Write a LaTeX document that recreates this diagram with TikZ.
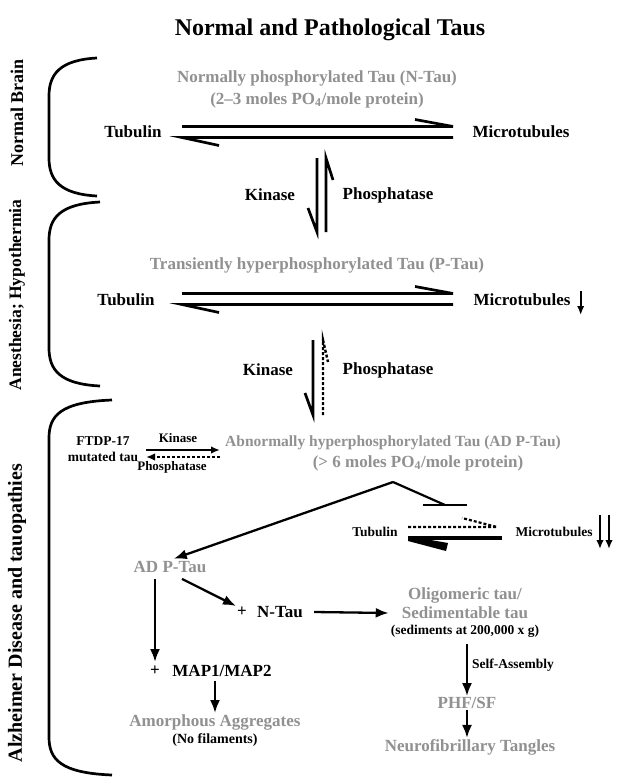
\documentclass[tikz,border=0pt]{standalone}
\usepackage{fontspec}
\setmainfont{Liberation Serif}
\usetikzlibrary{arrows.meta}
\definecolor{taugrey}{RGB}{145,145,145}
\newcommand{\drawthick}{\draw[line width=2.7pt]}
% equilibrium pair: left x, right x, middle y
\newcommand{\eqarrows}[3]{
  \drawthick (#1,#3-5.5)--(#2,#3-5.5)--++(-38,-7);
  \drawthick (#2,#3+5.5)--(#1,#3+5.5)--++(37,8);
}
% side brace: top y, bottom y, right x
\newcommand{\sidebrace}[3]{
  \drawthick (#3,#1) .. controls (60,#1+2) and (49,#1+16) .. (49,#1+38)
    -- (49,#2-38) .. controls (49,#2-16) and (60,#2-2) .. (#3,#2);
}
\tikzset{
  txt/.style={inner sep=1pt, font=\fontsize{17}{19}\selectfont\bfseries},
  greytxt/.style={txt, text=taugrey},
  smalltxt/.style={inner sep=1pt, font=\fontsize{13.5}{15}\selectfont\bfseries},
  sidetxt/.style={inner sep=1pt, rotate=90, font=\fontsize{18}{20}\selectfont\bfseries},
  arr/.style={-{Latex[length=13pt,width=10pt]}, line width=2.3pt},
  thinarr/.style={-{Latex[length=9pt,width=7.5pt]}, line width=1.8pt}
}
\begin{document}
\begin{tikzpicture}[x=1pt,y=-1pt]
\fill[white] (0,0) rectangle (616,779);
\useasboundingbox (0,0) rectangle (616,779);
\node[inner sep=1pt, font=\fontsize{24}{26}\selectfont\bfseries] (title) at (330,30) {Normal and Pathological Taus};

% sides
\sidebrace{58}{196}{97}
\sidebrace{202}{386}{100}
\sidebrace{400}{775}{112}
\node[sidetxt] (nb) at (17,113) {Normal Brain};
\node[sidetxt, font=\fontsize{17.5}{20}\selectfont\bfseries] (ah) at (17,295) {Anesthesia; Hypothermia};
\node[sidetxt, font=\fontsize{20}{22}\selectfont\bfseries] (ad) at (17,613) {Alzheimer Disease and tauopathies};

% normal brain
\node[greytxt] (ntau) at (317,78) {Normally phosphorylated Tau (N-Tau)};
\node[greytxt] (ntaumol) at (317,100) {(2–3 moles PO\textsubscript{4}/mole protein)};
\node[txt] (tub1) at (133,132) {Tubulin};
\node[txt] (mt1) at (521,132) {Microtubules};
\eqarrows{182}{453}{132}
\drawthick (317,158)--(317,232)--++(-9,-24);
\drawthick (326,232)--(326,158)--++(7,22);
\node[txt] (kin1) at (270,195) {Kinase};
\node[txt] (pho1) at (388,195) {Phosphatase};

% anesthesia
\node[greytxt] (ptau) at (317,265) {Transiently hyperphosphorylated Tau (P-Tau)};
\node[txt] (tub2) at (126,300) {Tubulin};
\node[txt] (mt2) at (522,300) {Microtubules};
\draw[thinarr] (mt2.east) ++(9,-9) -- ++(0,24);
\eqarrows{182}{453}{299}
\drawthick (313,340)--(313,415)--++(-8,-22);
\draw[line width=2.4pt, densely dashed] (323,415)--(323,340)--++(5,22);
\node[txt] (kin2) at (268,370) {Kinase};
\node[txt] (pho2) at (388,370) {Phosphatase};

% alzheimer
\node[smalltxt] (ftdp) at (103,441) {FTDP-17};
\node[smalltxt] (mut) at (103,457) {mutated tau};
\node[inner sep=1pt, font=\fontsize{13}{15}\selectfont\bfseries] (kin3) at (178,438) {Kinase};
\node[inner sep=1pt, font=\fontsize{13}{15}\selectfont\bfseries] (pho3) at (172,467) {Phosphatase};
\draw[thinarr] (146,450)--(220,450);
\draw[thinarr, densely dashed] (220,457)--(146,457);
\node[greytxt, font=\fontsize{15.5}{17}\selectfont\bfseries] (adhead) at (393,443) {Abnormally hyperphosphorylated Tau (AD P-Tau)};
\node[greytxt] (admol) at (418,463) {(> 6 moles PO\textsubscript{4}/mole protein)};
\coordinate (vtx) at (393,482);
\coordinate (inh) at (445,505);
\draw[line width=2.2pt] (vtx)--(inh);
\draw[line width=2.2pt] (inh) ++(-22,0) -- ++(44,0);
\node[smalltxt] (tub3) at (375,532) {Tubulin};
\node[smalltxt] (mt3) at (554,532) {Microtubules};
\draw[thinarr] (600,515)--(600,549);
\draw[thinarr] (609,515)--(609,549);
\draw[line width=2.2pt, densely dashed] (408,527)--(497,527)--++(-35,-9);
\draw[line width=4.5pt] (502,538)--(408,538);
\fill (408,536)--(448,543)--(446,551)--(408,541)--cycle;

\node[greytxt] (adptau) at (170,567) {AD P-Tau};
\draw[arr, shorten >=4pt] (vtx)--(adptau.north);
\node[txt] (plus1) at (155,671) {+};
\node[txt] (map) at (222,671) {MAP1/MAP2};
\draw[arr, shorten >=3pt] ([yshift=-5pt]adptau.south -| plus1) -- (plus1.north);
\node[txt] (plus2) at (242,612) {+};
\node[txt] (ntau2) at (280,612) {N-Tau};
\draw[arr] ([xshift=12pt,yshift=-5pt]adptau.south) -- (plus2.north west);
\node[greytxt] (olig) at (465,595) {Oligomeric tau/};
\node[greytxt] (sed) at (465,613) {Sedimentable tau};
\node[smalltxt] (sedg) at (465,631) {(sediments at 200,000 x g)};
\draw[arr] ([xshift=10pt]ntau2.east) -- ([xshift=-12pt]sed.west);
\node[greytxt] (phf) at (467,703) {PHF/SF};
\draw[arr] ([yshift=-6pt]sedg.south -| phf) -- (phf.north);
\node[smalltxt, anchor=west] (selfa) at (471,665) {Self-Assembly};
\node[greytxt] (neuro) at (470,747) {Neurofibrillary Tangles};
\draw[arr] (phf.south) -- (phf.south |- neuro.north);
\node[greytxt] (amorph) at (215,722) {Amorphous Aggregates};
\node[inner sep=1pt, font=\fontsize{14}{16}\selectfont\bfseries] (nofil) at (215,740) {(No filaments)};
\draw[arr] ([yshift=-3pt]map.south -| amorph) -- (amorph.north);
\end{tikzpicture}
\end{document}
